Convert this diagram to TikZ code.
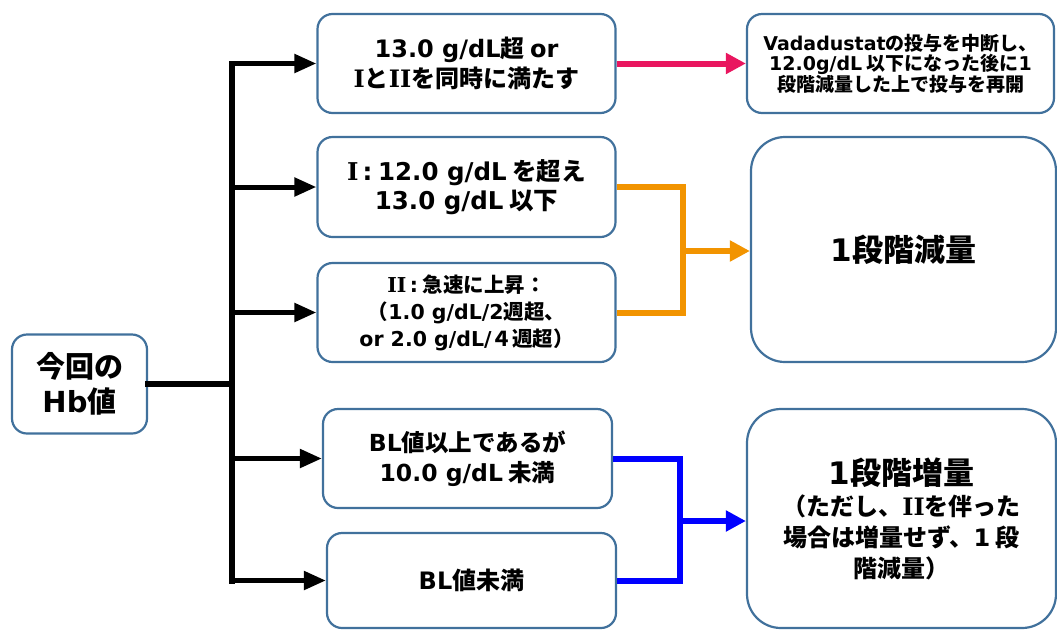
\documentclass[tikz,border=0pt]{standalone}
\usepackage{fontspec}
\setmainfont{Noto Sans CJK JP}
\newfontfamily\la{DejaVu Sans}
\newfontfamily\rn{DejaVu Serif}
\usetikzlibrary{arrows.meta}
\definecolor{boxc}{RGB}{65,113,156}
\definecolor{pinkc}{RGB}{233,22,95}
\definecolor{orngc}{RGB}{242,148,0}
\definecolor{bluc}{RGB}{0,0,255}
\newcommand\rI{{\rn I}}
\newcommand\rII{{\rn II}}
\begin{document}
\begin{tikzpicture}[x=1pt,y=-1pt,
  box/.style={draw=boxc,line width=2.2pt,rounded corners=15pt,fill=white,align=center,inner sep=0pt},
  bigbox/.style={box,rounded corners=34pt},
  trunkline/.style={line width=6pt,line cap=rect,draw=black},
  br/.style={line width=5pt,draw=black,-{Triangle[length=22pt,width=18pt]}},
  conn/.style={line width=6pt,line join=miter,draw=#1},
  carr/.style={line width=6pt,draw=#1,-{Triangle[length=20pt,width=20pt]}}
]
\useasboundingbox (0,0) rectangle (1057,630);

% nodes
\node[box,minimum width=135pt,minimum height=99pt,font={\bfseries\fontsize{29}{35}\selectfont}] (hb) at (79.5,384) {今回の\\{\la Hb}値};
\node[box,minimum width=298pt,minimum height=99pt,font={\bfseries\fontsize{24}{30}\selectfont}] (b1) at (466.5,63.5) {{\la 13.0 g/dL}超 {\la or}\\\rI と\rII を同時に満たす};
\node[box,minimum width=298pt,minimum height=100pt,font={\bfseries\fontsize{24.5}{29}\selectfont}] (b2) at (466.5,187) {\rI\,{\la :} {\la 12.0 g/dL} を超え\\{\la 13.0 g/dL} 以下};
\node[box,minimum width=298pt,minimum height=99pt,font={\bfseries\fontsize{20.5}{27}\selectfont}] (b3) at (466.5,312.5) {\rII\,{\la :} 急速に上昇：\\（{\la 1.0 g/dL/2}週超、\\{\la or 2.0 g/dL/}４週超）};
\node[box,minimum width=289pt,minimum height=99pt,font={\bfseries\fontsize{23.5}{30}\selectfont}] (b4) at (467.5,458.5) {{\la BL}値以上であるが\\{\la 10.0 g/dL} 未満};
\node[box,minimum width=289pt,minimum height=95pt,font={\bfseries\fontsize{24}{30}\selectfont}] (b5) at (471.5,580.5) {{\la BL}値未満};
\node[box,minimum width=307pt,minimum height=99pt,font={\bfseries\fontsize{19}{20.5}\selectfont}] (vada) at (900.5,63.5) {{\la Vadadustat}の投与を中断し、\\{\la 12.0g/dL} 以下になった後に{\la 1}\\段階減量した上で投与を再開};
\node[bigbox,minimum width=305pt,minimum height=225pt,font={\bfseries\fontsize{31}{36}\selectfont}] (dec) at (903.5,249.5) {{\la 1}段階減量};
\node[bigbox,minimum width=309pt,minimum height=219pt,font={\bfseries\fontsize{24}{31}\selectfont}] (inc) at (901.5,518.5) {{\fontsize{31}{33}\selectfont{\la 1}段階増量}\\（ただし、\rII を伴った\\場合は増量せず、{\la 1} 段\\階減量）};

% black tree
\coordinate (j) at (232,384);
\draw[trunkline] (hb.east) -- (j);
\draw[trunkline] (j |- b1.west) -- (j |- b5.west);
\draw[br] (j |- b1.west) -- (b1.west);
\draw[br] (j |- b2.west) -- (b2.west);
\draw[br] (j |- b3.west) -- (b3.west);
\draw[br] (j |- b4.west) -- (b4.west);
\draw[br] (j |- b5.west) -- (b5.west);

% pink
\draw[carr=pinkc] (b1.east) -- (vada.west);

% orange
\coordinate (om) at (683,251);
\draw[conn=orngc] (b2.east) -- (b2.east -| om) -- (b3.east -| om) -- (b3.east);
\draw[carr=orngc] (om) -- (om -| dec.west);

% blue
\coordinate (bm) at (680,521);
\draw[conn=bluc] (b4.east) -- (b4.east -| bm) -- (b5.east -| bm) -- (b5.east);
\draw[carr=bluc] (bm) -- (bm -| inc.west);
\end{tikzpicture}
\end{document}
